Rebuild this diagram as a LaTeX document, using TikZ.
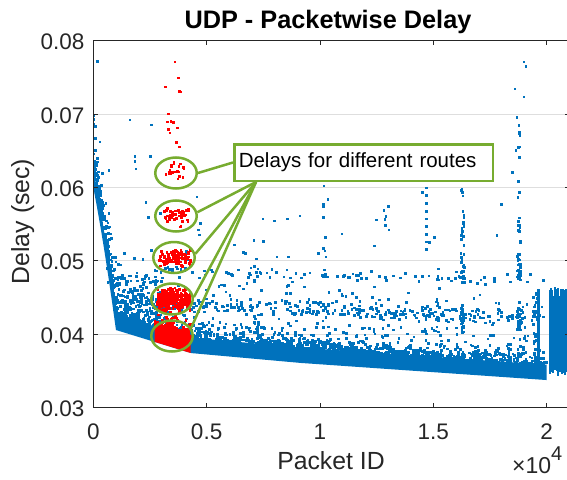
\documentclass[tikz,border=0pt]{standalone}
\usepackage{fontspec}
\setmainfont{Liberation Sans}
\usetikzlibrary{shapes.geometric}
\definecolor{mblue}{rgb}{0,0.447,0.741}
\definecolor{mred}{rgb}{1,0,0}
\definecolor{mgreen}{rgb}{0.466,0.674,0.188}
\definecolor{axgray}{rgb}{0.15,0.15,0.15}
\definecolor{gridgray}{rgb}{0.87,0.87,0.87}
\newcommand{\pkt}[2]{\fill (#1,#2) +(-1.35pt,-1.35pt) rectangle +(1.35pt,1.35pt);}
\tikzset{
  route/.style={ellipse, draw=mgreen, line width=2.5pt, minimum width=41.5pt, minimum height=31pt, inner sep=0pt},
  callout/.style={mgreen, line width=2.5pt},
  ticklab/.style={inner sep=0pt, text=axgray, font=\fontsize{22.5}{26}\selectfont}
}
\begin{document}
\begin{tikzpicture}[x=1pt, y=-1pt,
  declare function={bandlo(\x)=max(60-160*\x-350*\x*\x, 40.54-9.5*(\x-0.1), 37.4-2.78*(\x-0.43), 36.04-2.15*(\x-0.92));
                    bandth(\x)=2.1+0.5*exp(-\x/0.1);}]
\useasboundingbox (0,0) rectangle (567,479);
\pgfmathsetseed{11}
\begin{scope}[shift={(93.3pt,-627.3pt)}, x=226.67pt, y=7.333pt]
  \foreach \tk in {40,50,60,70} \draw[gridgray, line width=0.8pt] (0,\tk) -- (2.1,\tk);
  \begin{scope}
    \clip (0,30) rectangle (2.1,80);
    % blue packets
    \begin{scope}[mblue]
    \fill plot[domain=0:2,samples=121] (\x,{bandlo(\x)}) -- plot[domain=2:0,samples=121] (\x,{bandlo(\x)+bandth(\x)}) -- cycle;
    \foreach \i in {1,...,240}{
      \pgfmathsetmacro\pid{0.11*rnd}
      \pgfmathsetmacro\dly{bandlo(\pid)+bandth(\pid)-0.8-1.9*ln(rnd+0.01)}
      \pkt{\pid}{\dly}
    }
    \foreach \i in {1,...,1500}{
      \pgfmathsetmacro\pid{0.1+1.9*rnd}
      \pgfmathsetmacro\dly{bandlo(\pid)+bandth(\pid)-0.6-0.75*ln(rnd+0.002)}
      \pkt{\pid}{\dly}
    }
    \foreach \i in {1,...,380}{
      \pgfmathsetmacro\pid{0.1+1.9*rnd}
      \pgfmathsetmacro\sq{rnd}
      \pgfmathsetmacro\dly{bandlo(\pid)+bandth(\pid)+9*\sq*\sq}
      \pkt{\pid}{\dly}
    }
    \foreach \i in {1,...,300}{
      \pgfmathsetmacro\pid{0.12+1.88*rnd}
      \pgfmathsetmacro\dly{44.4-1.1*\pid+1.2*(rnd+rnd-1)}
      \pkt{\pid}{\dly}
    }
    \foreach \i in {1,...,80}{
      \pgfmathsetmacro\pid{0.15+1.75*rnd}
      \pgfmathsetmacro\dly{49.0-0.9*\pid+0.8*(rnd+rnd-1)}
      \pkt{\pid}{\dly}
    }
    \foreach \i in {1,...,170}{
      \pgfmathsetmacro\pid{0.06+0.26*rnd}
      \pgfmathsetmacro\dly{max(42+6*rnd, bandlo(\pid)+bandth(\pid))}
      \pkt{\pid}{\dly}
    }
    \foreach \i in {1,...,45}{
      \pgfmathsetmacro\pid{0.05+1.95*rnd}
      \pgfmathsetmacro\sq{rnd}
      \pgfmathsetmacro\dly{47+16*\sq*\sq}
      \pkt{\pid}{\dly}
    }
    \foreach \pid/\dly in {0.019/77.2, 0.162/69.2, 0.258/68.5, 0.184/64.2, 0.184/63.5, 0.253/64.2,
        0.069/62.3, 0.03/66.2, 0.188/62.5, 0.912/56.1, 1.018/60.2, 1.035/58.3, 1.291/56.0, 1.305/54.2,
        1.622/65.4, 1.90/77.1, 1.909/76.5, 1.86/73.4, 1.90/72.3, 1.869/69.5, 1.865/65.0, 1.781/53.4,
        0.457/58.7, 0.474/55.1, 0.749/55.7, 0.80/55.4, 0.463/54.2, 0.47/53.5, 0.81/50.5, 0.86/50.5,
        0.67/51.0, 0.71/49.2, 0.662/51.1}{
      \pkt{\pid}{\dly}
    }
    \foreach \cn/\dlo/\dhi/\cnt in {1.02/40/60/14, 1.52/40/49/10, 1.63/40/44/25, 1.63/47/51/18,
        1.63/52/57/14, 1.63/58/60/4, 1.88/40.5/43.5/30, 1.88/47.5/51/25, 1.88/52/61/14,
        1.88/64/70/7, 1.29/54/57/3, 1.95/36/46/25}{
      \foreach \m in {1,...,\cnt}{
        \pgfmathsetmacro\pid{\cn+0.016*(rnd-0.5)}
        \pgfmathsetmacro\dly{\dlo+(\dhi-\dlo)*rnd}
        \pkt{\pid}{\dly}
      }
    }
    \foreach \m in {0,...,9}{
      \pkt{1.47}{51.5+1.05*\m}
    }
    \fill (1.958,33.8) rectangle (1.969,46.2);
    \foreach \i in {1,...,170}{
      \pgfmathsetmacro\pid{2.012+0.09*rnd}
      \pgfmathsetmacro\dlo{34.3+5.5*rnd}
      \pgfmathsetmacro\dhi{43.2+3.2*rnd}
      \draw[line width=1.6pt] (\pid,\dlo) -- (\pid,\dhi);
    }
    \end{scope}
    % red packets
    \begin{scope}[mred]
    \fill plot[domain=0.27:0.43,samples=20] (\x,{bandlo(\x)}) -- plot[domain=0.43:0.27,samples=20] (\x,{bandlo(\x)+2.5}) -- cycle;
    \foreach \i in {1,...,140}{
      \pgfmathsetmacro\pid{0.27+0.16*rnd}
      \pgfmathsetmacro\dly{bandlo(\pid)+2.0-0.7*ln(rnd+0.02)}
      \pkt{\pid}{\dly}
    }
    \foreach \cn/\cd/\cw/\cnt/\nw in {0.355/44.6/1.7/260/0.145, 0.36/50.4/1.5/110/0.14,
        0.367/55.9/1.8/45/0.11, 0.365/62.3/1.7/22/0.09}{
      \foreach \m in {1,...,\cnt}{
        \pgfmathsetmacro\pid{\cn+\nw*(rnd-0.5)}
        \pgfmathsetmacro\dly{\cd+\cw*(rnd+rnd-1)}
        \pkt{\pid}{\dly}
      }
    }
    \foreach \pid/\dly in {0.361/77.1, 0.375/74.9, 0.319/73.7, 0.379/73.1, 0.387/73.0, 0.331/70.0,
        0.328/68.9, 0.343/69.0, 0.353/68.8, 0.331/67.9, 0.372/68.1, 0.338/67.4, 0.368/66.1, 0.379/65.5}{
      \pkt{\pid}{\dly}
    }
    \end{scope}
  \end{scope}
  % axes
  \draw[axgray, line width=0.9pt] (0,30) rectangle (2.1,80);
  \foreach \tk in {0,0.5,1,1.5,2}{
    \draw[axgray, line width=0.9pt] (\tk,30) -- ++(0,4.7pt) (\tk,80) -- ++(0,-4.7pt);
    \node[ticklab, anchor=base] at (\tk,30) [yshift=-31.7pt] {\tk};
  }
  \foreach \tk in {30,40,...,80}{
    \draw[axgray, line width=0.9pt] (0,\tk) -- ++(4.7pt,0) (2.1,\tk) -- ++(-4.7pt,0);
    \node[ticklab, anchor=east] at (0,\tk) [xshift=-8.8pt, yshift=-1.5pt] {0.0\the\numexpr\tk/10\relax};
  }
\end{scope}
\node[anchor=base, font=\bfseries\fontsize{25.3}{29}\selectfont] (title) at (328,28.3) {UDP - Packetwise Delay};
\node[anchor=base, text=axgray, font=\fontsize{24.8}{28}\selectfont] (xlab) at (331,469.3) {Packet ID};
\node[anchor=base, rotate=90, text=axgray, font=\fontsize{24.8}{28}\selectfont] (ylab) at (29,221.5) {Delay (sec)};
\node[anchor=base west, inner sep=0pt, text=axgray, font=\fontsize{23}{27}\selectfont] (xexp) at (512,473) {×10\raisebox{13pt}{\fontsize{20}{24}\selectfont 4}};
\node[route] (r1) at (176,173) {};
\node[route] (r2) at (176,216) {};
\node[route] (r3) at (174,257.5) {};
\node[route] (r4) at (172,299) {};
\node[route] (r5) at (172,336) {};
\node[draw=mgreen, line width=2.5pt, fill=white, text width=249.5pt, minimum height=36.5pt, inner xsep=4.5pt, inner ysep=0pt,
  align=left, font=\fontsize{20.5}{24}\selectfont] (note) at (363.5,162.5) {Delays for different routes};
\draw[callout] (note.west) -- (r1.east);
\coordinate (fan) at ([xshift=23pt]note.south west);
\foreach \rt/\ang in {r2/10, r3/10, r4/5, r5/23}{
  \draw[callout] (fan) -- (\rt.\ang);
}
\end{tikzpicture}
\end{document}
